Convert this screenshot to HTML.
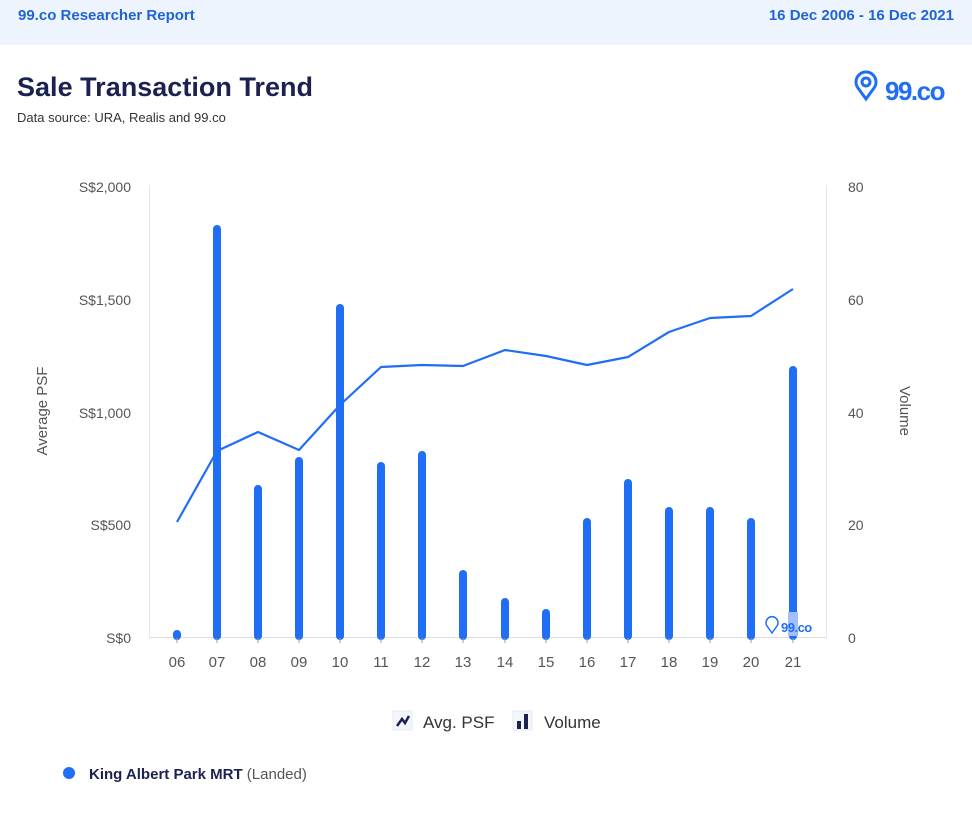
<!DOCTYPE html>
<html><head><meta charset="utf-8"><style>
html,body{margin:0;padding:0;background:#fff;}
body{width:972px;height:819px;overflow:hidden;font-family:"Liberation Sans",sans-serif;}
</style></head><body>
<svg width="972" height="819" xmlns="http://www.w3.org/2000/svg" font-family="Liberation Sans, sans-serif">
<rect x="0" y="0" width="972" height="45" fill="#eef4fd"/>
<text x="18" y="20" font-size="15" font-weight="bold" fill="#1f63d8">99.co Researcher Report</text>
<text x="954" y="20" font-size="15" font-weight="bold" fill="#1f63d8" text-anchor="end">16 Dec 2006 - 16 Dec 2021</text>
<text x="17" y="96" font-size="27" font-weight="bold" fill="#1c2250" textLength="296">Sale Transaction Trend</text>
<text x="17" y="122" font-size="13" fill="#333">Data source: URA, Realis and 99.co</text>
<g fill="none" stroke="#1f6ef5" stroke-width="3">
<path d="M866 99 L858 88 A10 10 0 1 1 874 88 Z"/><circle cx="866" cy="82" r="4"/>
</g>
<text x="885" y="100" font-size="26" font-weight="bold" fill="#1f6ef5" letter-spacing="-1.5">99.co</text>
<line x1="149.5" y1="185" x2="149.5" y2="637" stroke="#e6e6e6"/>
<line x1="826.5" y1="185" x2="826.5" y2="637" stroke="#e6e6e6"/>
<line x1="149" y1="637.5" x2="827" y2="637.5" stroke="#ddd"/>
<g font-size="14" fill="#555" text-anchor="end">
<text x="131" y="192">S$2,000</text><text x="131" y="305">S$1,500</text><text x="131" y="418">S$1,000</text><text x="131" y="530">S$500</text><text x="131" y="643">S$0</text>
</g>
<g font-size="14" fill="#555">
<text x="848" y="192">80</text><text x="848" y="305">60</text><text x="848" y="418">40</text><text x="848" y="530">20</text><text x="848" y="643">0</text>
</g>
<text transform="translate(47,411) rotate(-90)" font-size="15" fill="#555" text-anchor="middle">Average PSF</text>
<text transform="translate(900,411) rotate(90)" font-size="15" fill="#555" text-anchor="middle">Volume</text>
<g stroke="#1f6ef5" stroke-width="8" stroke-linecap="round">
<line x1="177" y1="636" x2="177" y2="634"/>
<line x1="217" y1="636" x2="217" y2="229"/>
<line x1="258" y1="636" x2="258" y2="489"/>
<line x1="299" y1="636" x2="299" y2="461"/>
<line x1="340" y1="636" x2="340" y2="308"/>
<line x1="381" y1="636" x2="381" y2="466"/>
<line x1="422" y1="636" x2="422" y2="455"/>
<line x1="463" y1="636" x2="463" y2="574"/>
<line x1="505" y1="636" x2="505" y2="602"/>
<line x1="546" y1="636" x2="546" y2="613"/>
<line x1="587" y1="636" x2="587" y2="522"/>
<line x1="628" y1="636" x2="628" y2="483"/>
<line x1="669" y1="636" x2="669" y2="511"/>
<line x1="710" y1="636" x2="710" y2="511"/>
<line x1="751" y1="636" x2="751" y2="522"/>
<line x1="793" y1="636" x2="793" y2="370"/>
</g>
<rect x="788" y="612" width="10" height="24" fill="#9fc0fb"/>
<polyline fill="none" stroke="#1f6ef5" stroke-width="2.2" stroke-linejoin="round" points="177,522 217,451 258,432 299,450 340,405 381,367 422,365 463,366 505,350 546,356 587,365 628,357 669,332 710,318 751,316 793,289"/>
<g fill="none" stroke="#1f6ef5" stroke-width="1.5"><path d="M772 633 L767 626 A6 6 0 1 1 777 626 Z"/></g>
<text x="781" y="632" font-size="13" font-weight="bold" fill="#1f6ef5" letter-spacing="-0.5">99.co</text>
<g stroke="#999"><line x1="177" y1="638" x2="177" y2="643"/><line x1="217" y1="638" x2="217" y2="643"/><line x1="258" y1="638" x2="258" y2="643"/><line x1="299" y1="638" x2="299" y2="643"/><line x1="340" y1="638" x2="340" y2="643"/><line x1="381" y1="638" x2="381" y2="643"/><line x1="422" y1="638" x2="422" y2="643"/><line x1="463" y1="638" x2="463" y2="643"/><line x1="505" y1="638" x2="505" y2="643"/><line x1="546" y1="638" x2="546" y2="643"/><line x1="587" y1="638" x2="587" y2="643"/><line x1="628" y1="638" x2="628" y2="643"/><line x1="669" y1="638" x2="669" y2="643"/><line x1="710" y1="638" x2="710" y2="643"/><line x1="751" y1="638" x2="751" y2="643"/><line x1="793" y1="638" x2="793" y2="643"/></g>
<g font-size="15" fill="#555" text-anchor="middle">
<text x="177" y="667">06</text><text x="217" y="667">07</text><text x="258" y="667">08</text><text x="299" y="667">09</text><text x="340" y="667">10</text><text x="381" y="667">11</text><text x="422" y="667">12</text><text x="463" y="667">13</text><text x="505" y="667">14</text><text x="546" y="667">15</text><text x="587" y="667">16</text><text x="628" y="667">17</text><text x="669" y="667">18</text><text x="710" y="667">19</text><text x="751" y="667">20</text><text x="793" y="667">21</text>
</g>
<rect x="393" y="711" width="19" height="19" fill="#f4f6fb" stroke="#e6e9f0"/>
<polyline points="397,726 402,719 405,723 409,716" fill="none" stroke="#1c2250" stroke-width="2.5"/>
<text x="423" y="728" font-size="17" fill="#333">Avg. PSF</text>
<rect x="513" y="711" width="19" height="19" fill="#f4f6fb" stroke="#e6e9f0"/>
<rect x="517" y="721" width="4" height="8" fill="#1c2250"/><rect x="524" y="714" width="4" height="15" fill="#1c2250"/>
<text x="544" y="728" font-size="17" fill="#333">Volume</text>
<circle cx="69" cy="773" r="6" fill="#1f6ef5"/>
<text x="89" y="779" font-size="15" fill="#1c2250"><tspan font-weight="bold">King Albert Park MRT</tspan><tspan fill="#555"> (Landed)</tspan></text>
</svg>
</body></html>
